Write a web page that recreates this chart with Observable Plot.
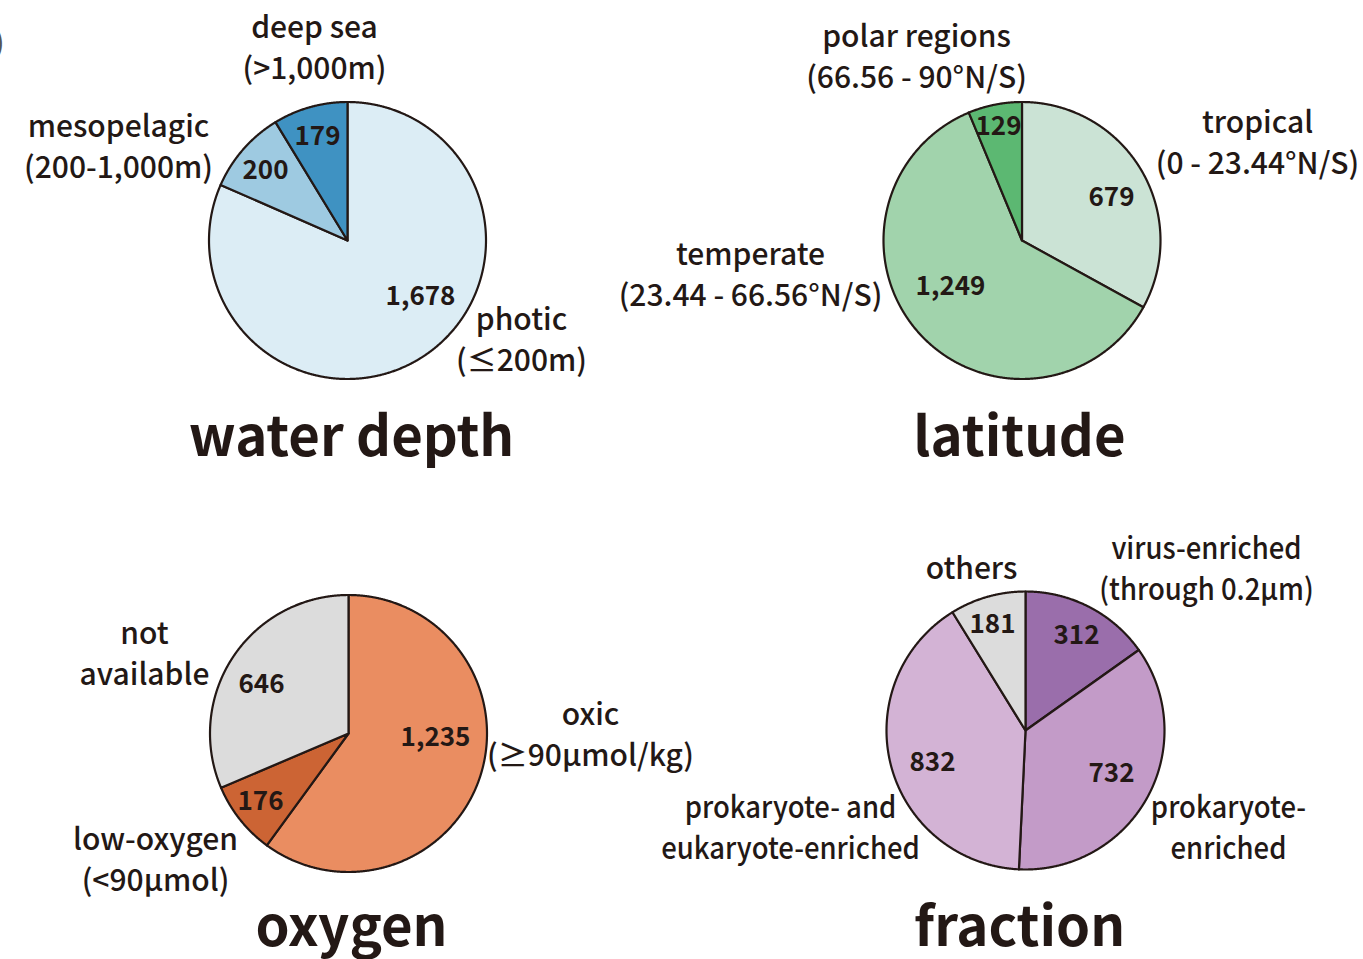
<!DOCTYPE html>
<html>
<head>
<meta charset="utf-8">
<script src="https://cdn.jsdelivr.net/npm/d3@7"></script>
<script src="https://cdn.jsdelivr.net/npm/@observablehq/plot@0.6"></script>
<style>
  html, body { margin: 0; padding: 0; background: #ffffff; }
  #chart { width: 1363px; height: 959px; overflow: hidden; }
</style>
</head>
<body>
<div id="chart"></div>
<script>
// ---------- data ----------
const panelTitles = ["water depth", "latitude", "oxygen", "fraction"];

const depthCategories = ["photic\n(≤200m)", "mesopelagic\n(200-1,000m)", "deep sea\n(>1,000m)"];
const depthValues = [1678, 200, 179];

const latitudeCategories = ["tropical\n(0 - 23.44°N/S)", "temperate\n(23.44 - 66.56°N/S)", "polar regions\n(66.56 - 90°N/S)"];
const latitudeValues = [679, 1249, 129];

const oxygenCategories = ["oxic\n(≥90μmol/kg)", "low-oxygen\n(<90μmol)", "not\navailable"];
const oxygenValues = [1235, 176, 646];

const fractionCategories = ["virus-enriched\n(through 0.2μm)", "prokaryote-\nenriched", "prokaryote- and\neukaryote-enriched", "others"];
const fractionValues = [312, 732, 832, 181];

// ---------- styles ----------
const depthColors = ["#dcedf5", "#9ecae1", "#3f92c2"];
const latitudeColors = ["#cbe3d5", "#a1d3ac", "#5cb872"];
const oxygenColors = ["#ea8d61", "#cc6434", "#dcdcdc"];
const fractionColors = ["#9a6eab", "#c39bc8", "#d3b3d5", "#dcdcdc"];

// ---------- layout (pixel positions of pies and labels) ----------
const layouts = [
  {cx: 347, cy: 240, r: 138.5, title: [351, 455],
   names: [[521, 370], [118, 177], [314, 78]],
   squeeze: [1, 1, 1],
   nums: [[420, 304], [265, 178], [317, 144]]},
  {cx: 1021.5, cy: 240, r: 138.5, title: [1019, 455],
   names: [[1257, 173], [750, 305], [916, 87]],
   squeeze: [1, 1, 1],
   nums: [[1111, 205], [950, 294], [998, 134]]},
  {cx: 348, cy: 733, r: 138.5, title: [351, 945],
   names: [[590, 765], [155, 890], [144, 684]],
   squeeze: [1, 1, 1],
   nums: [[435, 745], [260, 809], [261, 692]]},
  {cx: 1025, cy: 730, r: 139, title: [1019, 945],
   names: [[1206, 599], [1228, 858], [790, 858], [971, 578]],
   squeeze: [0.915, 0.915, 0.915, 1],
   nums: [[1076, 643], [1111, 781], [932, 770], [992, 632]]}
];

const panels = [
  {categories: depthCategories, values: depthValues, colors: depthColors},
  {categories: latitudeCategories, values: latitudeValues, colors: latitudeColors},
  {categories: oxygenCategories, values: oxygenValues, colors: oxygenColors},
  {categories: fractionCategories, values: fractionValues, colors: fractionColors}
];

// ---------- derive geometry from the values ----------
const wedgePoints = [];
const nameLabels = [];
const numLabels = [];
const titleLabels = [];
const squeezeByText = new Map();
const fmt = d3.format(",");

panels.forEach((p, pi) => {
  const L = layouts[pi];
  const arcs = d3.pie().sort(null).startAngle(0).endAngle(2 * Math.PI)(p.values);
  arcs.forEach((a, i) => {
    const id = `p${pi}s${i}`;
    const fill = p.colors[i];
    wedgePoints.push({id, x: L.cx, y: L.cy, fill});
    const n = Math.max(2, Math.ceil((a.endAngle - a.startAngle) / 0.005));
    for (let k = 0; k <= n; k++) {
      const t = a.startAngle + (a.endAngle - a.startAngle) * k / n;
      wedgePoints.push({id, x: L.cx + L.r * Math.sin(t), y: L.cy - L.r * Math.cos(t), fill});
    }
    nameLabels.push({text: p.categories[i], x: L.names[i][0], y: L.names[i][1]});
    if (L.squeeze[i] !== 1) squeezeByText.set(p.categories[i].replace(/\n/g, ""), {s: L.squeeze[i], x: L.names[i][0]});
    numLabels.push({text: fmt(p.values[i]), x: L.nums[i][0], y: L.nums[i][1]});
  });
  titleLabels.push({text: panelTitles[pi], x: L.title[0], y: L.title[1]});
});

const FONT = "'Noto Sans CJK JP', 'Noto Sans', sans-serif";
const INK = "#231815";

const chart = Plot.plot({
  width: 1363,
  height: 959,
  margin: 0,
  x: {domain: [0, 1363], range: [0, 1363], axis: null},
  y: {domain: [0, 959], range: [0, 959], axis: null},
  color: {type: "identity"},
  style: {fontFamily: FONT, background: "#ffffff"},
  marks: [
    Plot.line(wedgePoints, {
      x: "x", y: "y", z: "id", fill: "fill",
      stroke: INK, strokeWidth: 2.2, strokeLinejoin: "round",
      curve: "linear-closed"
    }),
    Plot.text(nameLabels, {
      x: "x", y: "y", text: "text", fill: INK,
      fontSize: 30, fontWeight: 500, lineAnchor: "bottom", lineHeight: 1.36,
      fontFamily: FONT
    }),
    Plot.text(numLabels, {
      x: "x", y: "y", text: "text", fill: INK,
      fontSize: 26, fontWeight: 700, lineAnchor: "bottom", fontFamily: FONT
    }),
    Plot.text(titleLabels, {
      x: "x", y: "y", text: "text", fill: INK,
      fontSize: 54.5, fontWeight: 700, lineAnchor: "bottom", fontFamily: FONT
    }),
    Plot.text([")"], {
      x: () => -6, y: () => 52, text: d => d, fill: "#555",
      fontSize: 30, textAnchor: "start", lineAnchor: "bottom", fontFamily: FONT
    })
  ]
});

// slightly condensed setting for some of the fraction labels, as in the original
d3.select(chart).selectAll("text").each(function () {
  const info = squeezeByText.get(this.textContent);
  if (!info) return;
  const t = this.getAttribute("transform");
  if (t && /translate/.test(t)) {
    this.setAttribute("transform", `${t} scale(${info.s},1)`);
  } else {
    this.setAttribute("transform", `translate(${info.x},0) scale(${info.s},1) translate(${-info.x},0)`);
  }
});

document.getElementById("chart").appendChild(chart);
</script>
</body>
</html>
